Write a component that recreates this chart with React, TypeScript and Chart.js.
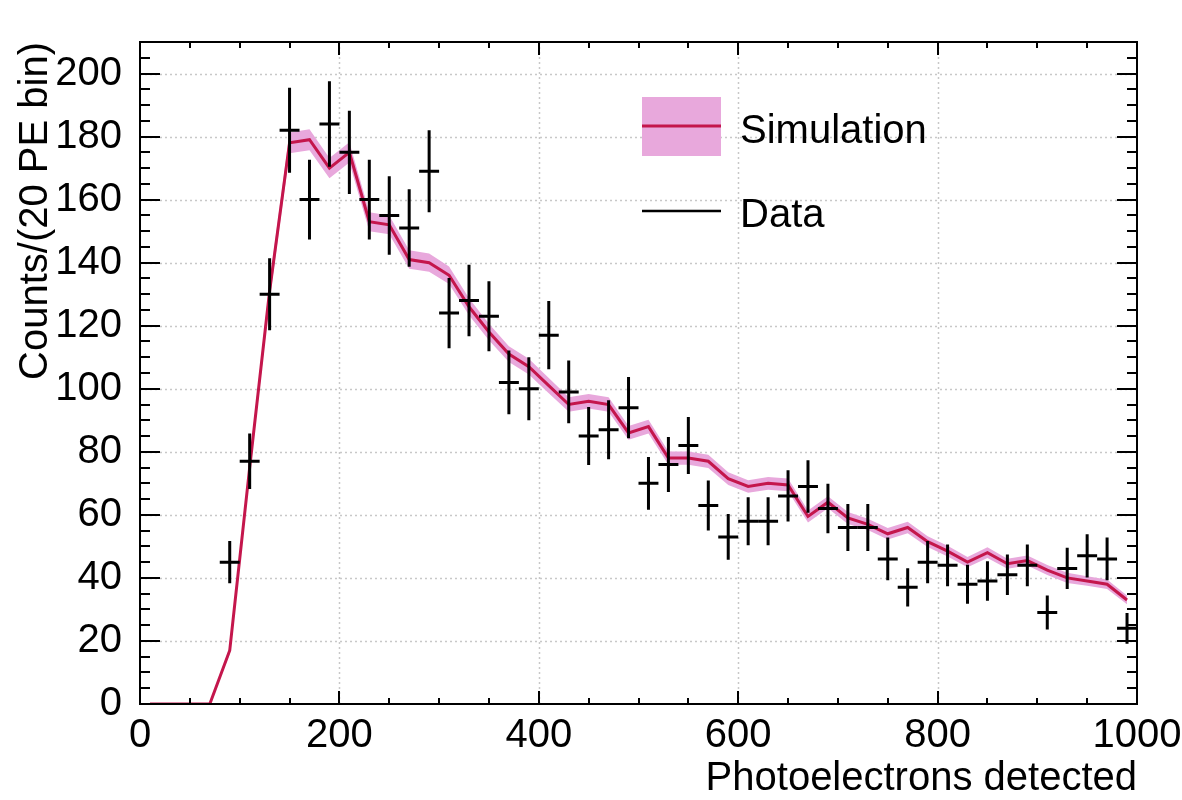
import React, { useEffect, useRef } from "react";
import { Chart, registerables } from "chart.js";

Chart.register(...registerables);

// Simulated spectrum, evaluated at the centre of each 20 PE bin
const simX = [
  10, 30, 50, 70, 90, 110, 130, 150, 170, 190, 210, 230, 250, 270, 290, 310, 330, 350, 370, 390,
  410, 430, 450, 470, 490, 510, 530, 550, 570, 590, 610, 630, 650, 670, 690, 710, 730, 750, 770, 790,
  810, 830, 850, 870, 890, 910, 930, 950, 970, 990,
];
const simCounts = [
  0, 0, 0, 0, 17, 75, 131, 178, 179, 170, 175, 153, 152, 141, 140, 136, 126, 118, 111, 107,
  101, 95, 96, 95, 86, 88, 78, 78, 77, 71.5, 69, 70, 69.5, 59.5, 64, 59, 57, 54, 56, 51.5,
  48.5, 45, 48, 44.5, 45.5, 42.5, 40, 39, 38, 33,
];
const simErr = [
  0, 0, 0, 0, 1.1, 2.2, 2.8, 3.3, 3.3, 3.2, 3.2, 3.0, 3.0, 2.9, 2.9, 2.8, 2.7, 2.6, 2.5, 2.5,
  2.4, 2.3, 2.3, 2.3, 2.2, 2.2, 2.1, 2.1, 2.1, 2.0, 2.0, 2.0, 2.0, 1.9, 1.9, 1.9, 1.8, 1.8, 1.8, 1.7,
  1.7, 1.6, 1.7, 1.6, 1.6, 1.6, 1.6, 1.5, 1.5, 1.4,
];

// Measured spectrum
const dataX = [
  90, 110, 130, 150, 170, 190, 210, 230, 250, 270, 290, 310, 330, 350, 370, 390, 410, 430, 450, 470,
  490, 510, 530, 550, 570, 590, 610, 630, 650, 670, 690, 710, 730, 750, 770, 790, 810, 830, 850, 870,
  890, 910, 930, 950, 970, 990,
];
const dataCounts = [
  45, 77, 130, 182, 160, 184, 175, 160, 155, 151, 169, 124, 128, 123, 102, 100, 117, 99, 85, 87,
  94, 70, 76, 82, 63, 53, 58, 58, 66, 69, 62, 56, 56, 46, 37, 45, 44, 38, 39, 41,
  44, 29, 43, 47, 46, 24,
];
const binHalfWidth = 10;

const xTicks = [0, 200, 400, 600, 800, 1000];
const yTicks = [0, 20, 40, 60, 80, 100, 120, 140, 160, 180, 200];
const xMinorStep = 50;
const yMinorStep = 5;
const X_MIN = 0;
const X_MAX = 1000;
const Y_MIN = 0;
const Y_MAX = 210;

const xTitle = "Photoelectrons detected";
const yTitle = "Counts/(20 PE bin)";
const legendLabels = ["Simulation", "Data"];

const BAND = "#e8a8dc";
const RED = "#c4164c";
const TICK_FONT = '40px "Liberation Sans", Arial, Helvetica, sans-serif';
const TEXT_FONT = '40px "Liberation Sans", Arial, Helvetica, sans-serif';

const frameAndAxes = {
  id: "frameAndAxes",
  beforeDatasetsDraw(chart: any) {
    const { ctx, chartArea: a, scales } = chart;
    const xs = scales.x;
    const ys = scales.y;
    ctx.save();
    ctx.strokeStyle = "#c8c8c8";
    ctx.lineWidth = 1.5;
    ctx.setLineDash([2, 3]);
    for (const v of xTicks) {
      if (v <= X_MIN || v >= X_MAX) continue;
      const px = Math.round(xs.getPixelForValue(v)) + 0.5;
      ctx.beginPath();
      ctx.moveTo(px, a.top);
      ctx.lineTo(px, a.bottom);
      ctx.stroke();
    }
    for (const v of yTicks) {
      if (v <= Y_MIN || v >= Y_MAX) continue;
      const py = Math.round(ys.getPixelForValue(v)) + 0.5;
      ctx.beginPath();
      ctx.moveTo(a.left, py);
      ctx.lineTo(a.right, py);
      ctx.stroke();
    }
    ctx.restore();
  },
  afterDatasetsDraw(chart: any) {
    const { ctx, chartArea: a, scales } = chart;
    const xs = scales.x;
    const ys = scales.y;

    // data points with error crosses
    ctx.save();
    ctx.strokeStyle = "#000";
    ctx.lineWidth = 3;
    ctx.lineCap = "butt";
    dataX.forEach((x, i) => {
      const n = dataCounts[i];
      const err = Math.sqrt(n); // Poisson uncertainty
      const px = xs.getPixelForValue(x);
      const py = ys.getPixelForValue(n);
      ctx.beginPath();
      ctx.moveTo(xs.getPixelForValue(x - binHalfWidth), py);
      ctx.lineTo(xs.getPixelForValue(x + binHalfWidth), py);
      ctx.moveTo(px, ys.getPixelForValue(n + err));
      ctx.lineTo(px, ys.getPixelForValue(n - err));
      ctx.stroke();
    });
    ctx.restore();

    // frame and ticks on all four sides
    ctx.save();
    ctx.strokeStyle = "#000";
    ctx.lineWidth = 2;
    ctx.strokeRect(a.left, a.top, a.right - a.left, a.bottom - a.top);
    ctx.beginPath();
    for (let v = X_MIN; v <= X_MAX; v += xMinorStep) {
      const px = Math.round(xs.getPixelForValue(v));
      const major = xTicks.includes(v);
      const len = major ? 13 : 6;
      ctx.moveTo(px, a.bottom);
      ctx.lineTo(px, a.bottom - len);
      ctx.moveTo(px, a.top);
      ctx.lineTo(px, a.top + len);
    }
    for (let v = Y_MIN; v <= Y_MAX; v += yMinorStep) {
      const py = Math.round(ys.getPixelForValue(v));
      const major = yTicks.includes(v);
      const len = major ? 20 : 10;
      ctx.moveTo(a.left, py);
      ctx.lineTo(a.left + len, py);
      ctx.moveTo(a.right, py);
      ctx.lineTo(a.right - len, py);
    }
    ctx.stroke();
    ctx.restore();
  },
  afterDraw(chart: any) {
    const { ctx, chartArea: a, scales } = chart;
    const xs = scales.x;
    const ys = scales.y;
    ctx.save();
    ctx.fillStyle = "#000";
    ctx.font = TICK_FONT;

    // tick labels
    ctx.textAlign = "center";
    ctx.textBaseline = "middle";
    for (const v of xTicks) {
      ctx.fillText(String(v), xs.getPixelForValue(v), a.bottom + 32);
    }
    ctx.textAlign = "right";
    for (const v of yTicks) {
      ctx.fillText(String(v), a.left - 18, ys.getPixelForValue(v));
    }

    // axis titles
    ctx.font = TEXT_FONT;
    ctx.textAlign = "right";
    ctx.fillText(xTitle, a.right, a.bottom + 75);
    ctx.save();
    ctx.translate(36, a.top);
    ctx.rotate(-Math.PI / 2);
    ctx.textAlign = "right";
    ctx.fillText(yTitle, 0, 0);
    ctx.restore();

    // legend
    ctx.fillStyle = BAND;
    ctx.fillRect(642, 97, 79, 59);
    ctx.strokeStyle = RED;
    ctx.lineWidth = 3;
    ctx.beginPath();
    ctx.moveTo(642, 126);
    ctx.lineTo(721, 126);
    ctx.stroke();
    ctx.strokeStyle = "#000";
    ctx.lineWidth = 2.5;
    ctx.beginPath();
    ctx.moveTo(642, 211);
    ctx.lineTo(721, 211);
    ctx.stroke();
    ctx.fillStyle = "#000";
    ctx.textAlign = "left";
    ctx.fillText(legendLabels[0], 740, 132);
    ctx.fillText(legendLabels[1], 740, 216);
    ctx.restore();
  },
};

export default function App() {
  const canvasRef = useRef<HTMLCanvasElement | null>(null);

  useEffect(() => {
    if (!canvasRef.current) return;
    const chart = new Chart(canvasRef.current, {
      type: "line",
      data: {
        datasets: [
          {
            label: "simUpper",
            data: simX.map((x, i) => ({ x, y: simCounts[i] + simErr[i] })),
            borderColor: "rgba(0,0,0,0)",
            borderWidth: 0,
            pointRadius: 0,
            backgroundColor: BAND,
            fill: "+1",
            tension: 0,
            order: 3,
          },
          {
            label: "simLower",
            data: simX.map((x, i) => ({ x, y: Math.max(0, simCounts[i] - simErr[i]) })),
            borderColor: "rgba(0,0,0,0)",
            borderWidth: 0,
            pointRadius: 0,
            fill: false,
            tension: 0,
            order: 3,
          },
          {
            label: legendLabels[0],
            data: simX.map((x, i) => ({ x, y: simCounts[i] })),
            borderColor: RED,
            borderWidth: 3,
            pointRadius: 0,
            fill: false,
            tension: 0,
            order: 1,
          },
          {
            type: "scatter",
            label: legendLabels[1],
            data: dataX.map((x, i) => ({ x, y: dataCounts[i] })),
            pointRadius: 0,
            showLine: false,
            order: 0,
          },
        ],
      },
      options: {
        animation: false,
        responsive: false,
        layout: { padding: { left: 140, top: 42, right: 45, bottom: 96 } },
        scales: {
          x: { type: "linear", min: X_MIN, max: X_MAX, display: false },
          y: { type: "linear", min: Y_MIN, max: Y_MAX, display: false },
        },
        plugins: {
          legend: { display: false },
          tooltip: { enabled: false },
        },
      },
      plugins: [frameAndAxes],
    });
    return () => chart.destroy();
  }, []);

  return (
    <div style={{ position: "fixed", left: 0, top: 0, width: 1182, height: 800, background: "#fff" }}>
      <canvas ref={canvasRef} width={1182} height={800} style={{ display: "block" }} />
    </div>
  );
}
